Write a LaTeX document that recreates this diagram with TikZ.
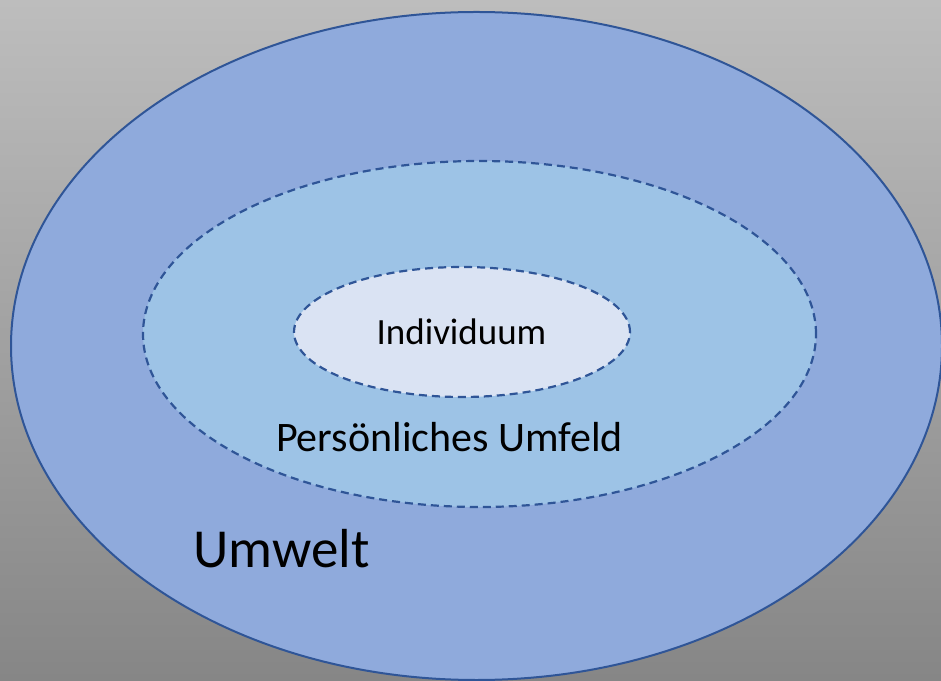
\documentclass[tikz,border=0pt]{standalone}
\usepackage{fontspec}
\setmainfont{Carlito}
\definecolor{bgtop}{RGB}{189,189,189}
\definecolor{bgbot}{RGB}{134,134,134}
\definecolor{outerfill}{RGB}{143,170,220}
\definecolor{midfill}{RGB}{157,195,230}
\definecolor{innerfill}{RGB}{218,227,243}
\definecolor{edge}{RGB}{47,85,151}
\tikzset{
  ring/.style={draw=edge, line width=2pt},
  dashring/.style={draw=edge, line width=2.2pt, dash pattern=on 8pt off 5pt},
  lbl/.style={anchor=base, inner sep=0pt, text=black}
}
\begin{document}
\begin{tikzpicture}[x=1pt,y=1pt]
\useasboundingbox (0,0) rectangle (941,680);
\clip (0,0) rectangle (941,680);
\shade[top color=bgtop, bottom color=bgbot] (0,0) rectangle (941,680);
\path[ring, fill=outerfill] (476.5,334) ellipse [x radius=465.5, y radius=334];
\path[dashring, fill=midfill] (479.5,346) ellipse [x radius=336.5, y radius=173];
\path[dashring, fill=innerfill] (462,348) ellipse [x radius=168, y radius=65];
\node[lbl, font=\fontsize{37}{42}\selectfont] (ind) at (461.5,335) {Individuum};
\node[lbl, font=\fontsize{42}{48}\selectfont] (pers) at (449.5,228) {Persönliches Umfeld};
\node[lbl, font=\fontsize{55}{60}\selectfont] (umw) at (281.5,113) {Umwelt};
\end{tikzpicture}
\end{document}
